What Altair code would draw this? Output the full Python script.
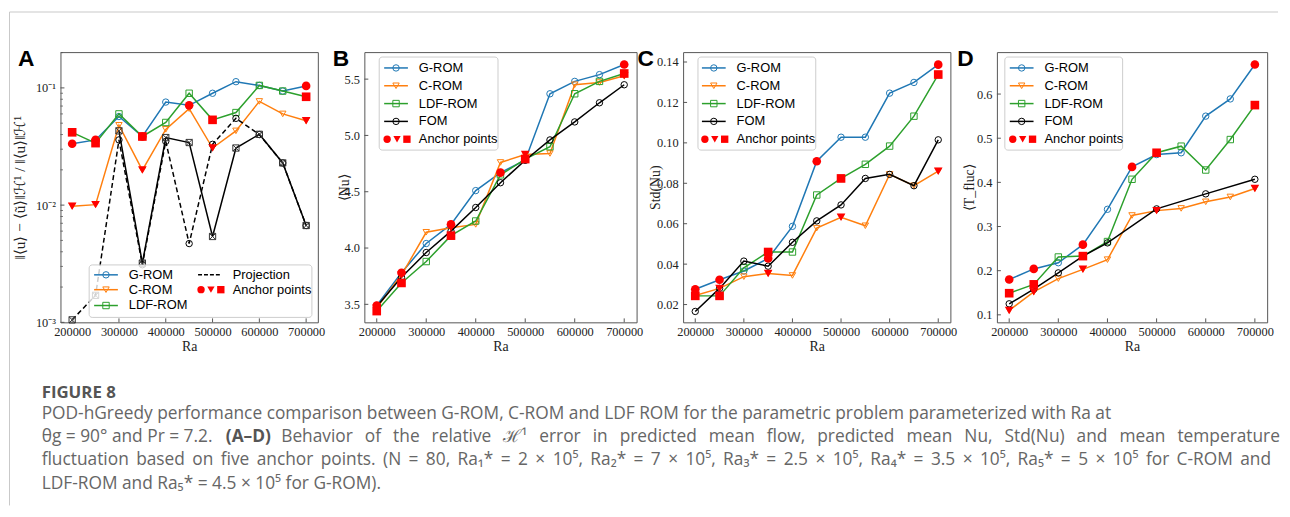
import altair as alt
import pandas as pd

# ---------------- data ----------------
ra = [200000, 250000, 300000, 350000, 400000, 450000, 500000, 550000, 600000, 650000, 700000]
x_ticks = [200000, 300000, 400000, 500000, 600000, 700000]
anchor_ra_g = [200000, 700000, 250000, 350000, 450000]
anchor_ra_cl = [200000, 700000, 250000, 350000, 500000]

# Panel A: relative H1 error
a_grom = [0.0334, 0.036, 0.057, 0.0385, 0.0757, 0.071, 0.090, 0.113, 0.105, 0.094, 0.104]
a_crom = [0.0098, 0.0101, 0.048, 0.0199, 0.0443, 0.0665, 0.0307, 0.043, 0.0767, 0.060, 0.0524]
a_ldf = [0.0418, 0.0338, 0.060, 0.0385, 0.0507, 0.090, 0.0534, 0.0616, 0.105, 0.094, 0.084]
a_proj_dash = [0.00105, 0.0017, 0.036, 0.0031, 0.035, 0.0047, 0.033, 0.055, 0.040, 0.0229, 0.0067]
a_proj_solid = [None, None, 0.043, 0.0032, 0.0377, 0.0342, 0.0054, 0.0307, 0.0402, 0.0229, 0.0067]

# Panel B: <Nu>
b_grom = [3.49, 3.78, 4.04, 4.21, 4.51, 4.67, 4.78, 5.37, 5.48, 5.54, 5.63]
b_crom = [3.47, 3.76, 4.14, 4.18, 4.21, 4.76, 4.83, 4.84, 5.45, 5.47, 5.53]
b_ldf = [3.44, 3.69, 3.88, 4.11, 4.24, 4.65, 4.79, 4.90, 5.37, 5.48, 5.55]
b_fom = [3.48, 3.74, 3.96, 4.15, 4.36, 4.58, 4.78, 4.96, 5.12, 5.29, 5.45]

# Panel C: Std(Nu)
c_grom = [0.0276, 0.0323, 0.0366, 0.0428, 0.0587, 0.0909, 0.1028, 0.1028, 0.1246, 0.1299, 0.1387]
c_crom = [0.0245, 0.028, 0.0338, 0.0354, 0.0344, 0.0578, 0.0632, 0.059, 0.0844, 0.0788, 0.086]
c_ldf = [0.0243, 0.0243, 0.0382, 0.046, 0.046, 0.0742, 0.0824, 0.0894, 0.0984, 0.1132, 0.1338]
c_fom = [0.0166, 0.028, 0.0415, 0.039, 0.0508, 0.0614, 0.0693, 0.0824, 0.0844, 0.0788, 0.1015]

# Panel D: <T_fluc>
d_grom = [0.180, 0.204, 0.218, 0.259, 0.339, 0.435, 0.463, 0.467, 0.550, 0.589, 0.667]
d_crom = [0.110, 0.152, 0.182, 0.203, 0.225, 0.325, 0.336, 0.341, 0.356, 0.367, 0.386]
d_ldf = [0.149, 0.169, 0.231, 0.233, 0.266, 0.407, 0.467, 0.482, 0.428, 0.497, 0.575]
d_fom = [0.125, 0.158, 0.195, 0.233, 0.263, None, 0.340, None, 0.374, None, 0.407]

a_yticks = [0.001, 0.01, 0.1]
a_minor = [k * 10.0 ** e for e in (-3, -2) for k in range(2, 10)] + [0.2]
b_yticks = [3.5, 4.0, 4.5, 5.0, 5.5]
c_yticks = [0.02, 0.04, 0.06, 0.08, 0.10, 0.12, 0.14]
d_yticks = [0.1, 0.2, 0.3, 0.4, 0.5, 0.6]

caption_head = "FIGURE 8"
caption_l1 = "POD-hGreedy performance comparison between G-ROM, C-ROM and LDF ROM for the parametric problem parameterized with Ra at"
caption_l2a = "θg = 90° and Pr = 7.2."
caption_l2b = "(A–D)"
caption_l2c = "Behavior of the relative ℋ¹ error in predicted mean flow, predicted mean Nu, Std(Nu) and mean temperature"
caption_l3 = "fluctuation based on five anchor points. (N = 80, Ra₁* = 2 × 10⁵, Ra₂* = 7 × 10⁵, Ra₃* = 2.5 × 10⁵, Ra₄* = 3.5 × 10⁵, Ra₅* = 5 × 10⁵ for C-ROM and"
caption_l4 = "LDF-ROM and Ra₅* = 4.5 × 10⁵ for G-ROM)."

# ---------------- style ----------------
COLOR = {"G-ROM": "#1f77b4", "C-ROM": "#ff7f0e", "LDF-ROM": "#2ca02c", "FOM": "#000000"}
SHAPE = {"G-ROM": "circle", "C-ROM": "triangle-down", "LDF-ROM": "square", "FOM": "circle"}
BOXX = "M-1,-1L1,-1L1,1L-1,1Z M-1,-1L1,1 M-1,1L1,-1"
SERIF = "Liberation Serif"
SANS = "Liberation Sans"
CAPF = "Open Sans"
CAPSIZE = 17.5
FRAME = "#555555"
TXT = "#222222"
DUMMY = pd.DataFrame({"d": [0]})
XDOM = [175000, 725000]
MSIZE = 42
ASIZE = 76


def justify(s, extra):
    # widen the gaps between words, as the justified caption of the reference does
    return (" " + extra).join(s.split(" "))


def df_of(vals):
    return pd.DataFrame({"Ra": ra, "val": vals}).dropna()


def xenc(w):
    sc = alt.Scale(domain=XDOM, nice=False, zero=False)
    return alt.X("Ra:Q", scale=sc, axis=alt.Axis(
        values=x_ticks, format="d", title="Ra", ticks=False, domain=False, grid=False,
        labelFont=SERIF, labelFontSize=12.5, labelColor=TXT, labelPadding=3, labelFlush=False,
        labelOverlap=False,
        titleFont=SERIF, titleFontSize=14, titleFontWeight="normal", titleColor=TXT,
        titleX=w / 2, titleY=24, titleBaseline="middle", titleAlign="center"))


def yenc(h, dom, ticks, log, title, toff, fmt=None, expr=None, tsize=14):
    if log:
        sc = alt.Scale(type="log", domain=dom, nice=False)
    else:
        sc = alt.Scale(domain=dom, nice=False, zero=False)
    kw = dict(values=ticks, title=title, ticks=False, domain=False, grid=False,
              labelFont=SERIF, labelFontSize=12.5, labelColor=TXT, labelPadding=5,
              labelOverlap=False, labelFlush=False,
              titleFont=SERIF, titleFontSize=tsize, titleFontWeight="normal", titleColor=TXT,
              titleX=-toff, titleY=h / 2, titleAngle=-90, titleAlign="center",
              titleBaseline="middle")
    if expr:
        kw["labelExpr"] = expr
    else:
        kw["format"] = fmt
    return alt.Y("val:Q", scale=sc, axis=alt.Axis(**kw))


def series_layers(name, vals, X, Y, anchors):
    d = df_of(vals)
    lay = [
        alt.Chart(d).mark_line(color=COLOR[name], strokeWidth=1.5).encode(x=X, y=Y),
        alt.Chart(d).mark_point(shape=SHAPE[name], filled=False, color=COLOR[name], size=MSIZE,
                                strokeWidth=1, opacity=1).encode(x=X, y=Y),
    ]
    anc = None
    if anchors is not None:
        anc = alt.Chart(d[d["Ra"].isin(anchors)]).mark_point(
            shape=SHAPE[name], filled=True, color="#ff0000", size=ASIZE, opacity=1).encode(x=X, y=Y)
    return lay, anc


def tick_layers(h, X, Y, ticks, minor=None):
    lay = [
        alt.Chart(pd.DataFrame({"Ra": x_ticks})).mark_rule(color=FRAME, strokeWidth=1).encode(
            x=X, y=alt.value(h), y2=alt.value(h - 4)),
        alt.Chart(pd.DataFrame({"val": ticks})).mark_rule(color=FRAME, strokeWidth=1).encode(
            y=Y, x=alt.value(0), x2=alt.value(4)),
    ]
    if minor:
        lay.append(alt.Chart(pd.DataFrame({"val": minor})).mark_rule(color=FRAME, strokeWidth=0.8).encode(
            y=Y, x=alt.value(0), x2=alt.value(2.5)))
    return lay


def v(x):
    return alt.value(x)


def legend_layers(box, rows):
    x1, y1, x2, y2 = box
    lay = [alt.Chart(DUMMY).mark_rect(fill="white", fillOpacity=0.8, stroke="#cccccc", strokeWidth=1,
                                      cornerRadius=3).encode(x=v(x1), x2=v(x2), y=v(y1), y2=v(y2))]
    for r in rows:
        kind, label, lx, y = r
        if kind == "anchor":
            for i, shp in enumerate(["circle", "triangle-down", "square"]):
                lay.append(alt.Chart(DUMMY).mark_point(shape=shp, filled=True, color="#ff0000", size=55,
                                                       opacity=1).encode(x=v(lx + 3 + 10 * i), y=v(y)))
        elif kind == "dash":
            lay.append(alt.Chart(DUMMY).mark_rule(color="black", strokeWidth=1.5, strokeDash=[4, 2]).encode(
                x=v(lx), x2=v(lx + 24), y=v(y)))
        else:
            lay.append(alt.Chart(DUMMY).mark_rule(color=COLOR[kind], strokeWidth=1.5).encode(
                x=v(lx), x2=v(lx + 24), y=v(y)))
            lay.append(alt.Chart(DUMMY).mark_point(shape=SHAPE[kind], filled=False, color=COLOR[kind],
                                                   size=MSIZE, strokeWidth=1, opacity=1).encode(
                x=v(lx + 12), y=v(y)))
        lay.append(alt.Chart(DUMMY).mark_text(text=label, align="left", baseline="middle", font=SANS,
                                              fontSize=13, color="black").encode(x=v(lx + 35), y=v(y)))
    return lay


def letter(ch, x, y):
    return alt.Chart(DUMMY).mark_text(text=ch, align="left", baseline="alphabetic", font=SANS,
                                      fontWeight="bold", fontSize=23, color="black").encode(x=v(x), y=v(y))


def text_at(s, x, y, bold=False, size=CAPSIZE, color="#666666", font=CAPF):
    return alt.Chart(DUMMY).mark_text(text=s, align="left", baseline="middle", font=font,
                                      fontWeight="bold" if bold else "normal", fontSize=size,
                                      color=color).encode(x=v(x), y=v(y))


H = 273
ROWS = [16, 34, 52, 70, 88]


def std_legend(box, lx, order):
    rows = [(name, name, lx, ROWS[i]) for i, name in enumerate(order)]
    rows.append(("anchor", "Anchor points", lx, ROWS[len(order)]))
    return legend_layers(box, rows)


def std_panel(w, dom, ticks, fmt, title, toff, vals, legend_box, lx, lch, lx_letter):
    X = xenc(w)
    Y = yenc(H, dom, ticks, False, title, toff, fmt=fmt)
    layers = []
    anchors = []
    names = ["G-ROM", "C-ROM", "LDF-ROM", "FOM"]
    for name, vv in zip(names, vals):
        anc_ra = anchor_ra_g if name == "G-ROM" else (anchor_ra_cl if name != "FOM" else None)
        lay, anc = series_layers(name, vv, X, Y, anc_ra)
        layers += lay
        if anc is not None:
            anchors.append(anc)
    layers += anchors
    layers += tick_layers(H, X, Y, ticks)
    layers += std_legend(legend_box, lx, names)
    layers.append(letter(lch, lx_letter, 14.5))
    return alt.layer(*layers).properties(width=w, height=H)


# ---------------- panel A ----------------
WA = 260
XA = xenc(WA)
YA = yenc(H, [0.001, 0.202], a_yticks, True,
          "‖⟨u⟩ − ⟨ũ⟩‖ℋ¹ / ‖⟨u⟩‖ℋ¹", 41,
          expr="datum.value > 0.05 ? '10⁻¹' : datum.value > 0.005 ? '10⁻²' : '10⁻³'", tsize=15.5)
la = []
anchors_a = []
for name, vv in [("G-ROM", a_grom), ("C-ROM", a_crom), ("LDF-ROM", a_ldf)]:
    lay, anc = series_layers(name, vv, XA, YA, anchor_ra_g if name == "G-ROM" else anchor_ra_cl)
    la += lay
    anchors_a.append(anc)

proj_dash = df_of(a_proj_dash)
proj_solid = df_of(a_proj_solid)
la += [
    alt.Chart(proj_dash).mark_line(color="black", strokeWidth=1.5, strokeDash=[5, 3]).encode(x=XA, y=YA),
    alt.Chart(proj_solid).mark_line(color="black", strokeWidth=1.5).encode(x=XA, y=YA),
    alt.Chart(proj_dash[proj_dash["Ra"] >= 300000]).mark_point(shape="circle", filled=False, color="black",
                                                                size=MSIZE, strokeWidth=1, opacity=1).encode(x=XA, y=YA),
    alt.Chart(proj_dash[proj_dash["Ra"] < 300000]).mark_point(shape=BOXX, filled=False, color="#333333",
                                                               size=40, strokeWidth=1, opacity=1).encode(x=XA, y=YA),
    alt.Chart(proj_solid).mark_point(shape=BOXX, filled=False, color="#333333", size=40, strokeWidth=1,
                                     opacity=1).encode(x=XA, y=YA),
]
la += anchors_a
la += tick_layers(H, XA, YA, a_yticks, minor=a_minor)
la += legend_layers((29, 215, 254, 268), [
    ("G-ROM", "G-ROM", 34, 225), ("C-ROM", "C-ROM", 34, 240), ("LDF-ROM", "LDF-ROM", 34, 256),
    ("dash", "Projection", 139, 225), ("anchor", "Anchor points", 139, 240),
])
la.append(letter("A", -43, 14.5))

# page decorations (border lines) and caption, positioned relative to panel A
la.append(alt.Chart(DUMMY).mark_rule(color="#c8c8c8", strokeWidth=1).encode(
    x=v(-51.5), x2=v(1230), y=v(-40.5)))
la.append(alt.Chart(DUMMY).mark_rule(color="#c8c8c8", strokeWidth=1).encode(
    x=v(-51.5), y=v(-40.5), y2=v(458)))
CX = -19
la.append(text_at(caption_head, CX, 344, bold=True, size=17, color="#555555"))
la.append(text_at(caption_l1, CX, 366))
la.append(text_at(caption_l2a, CX, 389))
la.append(text_at(caption_l2b, 226 - 59, 389, bold=True, color="#555555"))
la.append(text_at(justify(caption_l2c, "\u2004\u200a"), 282 - 59, 389))
la.append(text_at(justify(caption_l3, "\u2006"), CX, 412))
la.append(text_at(caption_l4, CX, 436))

panel_a = alt.layer(*la).properties(width=WA, height=H)

# ---------------- panels B, C, D ----------------
panel_b = std_panel(275, [3.34, 5.74], b_yticks, ".1f", "⟨Nu⟩", 20,
                    [b_grom, b_crom, b_ldf, b_fom], (15, 5, 135, 99), 20, "B", -32)
panel_c = std_panel(270, [0.0112, 0.1449], c_yticks, ".2f", "Std(Nu)", 28,
                    [c_grom, c_crom, c_ldf, c_fom], (15, 5, 134, 99), 19, "C", -46)
panel_d = std_panel(273, [0.083, 0.695], d_yticks, ".1f", "⟨T_fluc⟩", 28,
                    [d_grom, d_crom, d_ldf, d_fom], (8, 5, 127, 99), 13, "D", -40)

chart = alt.hconcat(panel_a, panel_b, panel_c, panel_d, spacing=47, bounds="flush").properties(
    padding=0
).configure_view(stroke=FRAME, strokeWidth=1)

chart.save("out.html", embed_options={"renderer": "svg", "actions": False})
